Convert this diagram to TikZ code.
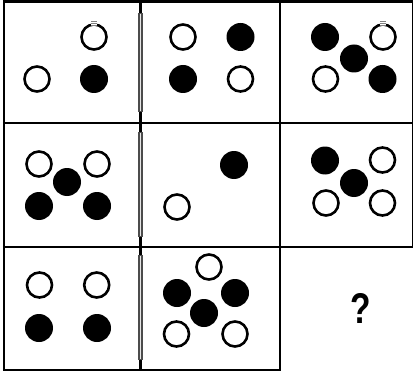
\documentclass[tikz,border=0pt]{standalone}
\usepackage{fontspec}
\setmainfont{Liberation Sans}
\begin{document}
\begin{tikzpicture}[x=1pt,y=-1pt,
  opn/.style={circle,draw=black,line width=2.6pt,fill=white,minimum size=25pt,inner sep=0pt},
  fil/.style={circle,fill=black,minimum size=28pt,inner sep=0pt},
  gridline/.style={draw=black,line width=2.2pt},
  dbl/.style={draw=black!70,line width=5.5pt},
  dblin/.style={draw=black!10,line width=1.6pt},
  tick/.style={draw=black!50,line width=0.8pt}]
\useasboundingbox (0,0) rectangle (414,374);
\fill[white] (0,0) rectangle (414,374);
% grid
\draw[gridline] (2.9,1.5) -- (413,1.5);
\draw[gridline] (4,0.4) -- (4,371);
\draw[gridline] (2.9,370) -- (281.1,370);
\draw[draw=black,line width=1.6pt] (412.6,0.4) -- (412.6,248);
\draw[gridline] (2.9,123) -- (413.4,123);
\draw[gridline] (2.9,247) -- (413.4,247);
\draw[gridline] (280,0.4) -- (280,371);
\draw[draw=black,line width=3pt] (140.3,0.4) -- (140.3,371);
\foreach \a/\b in {13/112,132/237,255/360}{
  \draw[dbl] (140.3,\a) -- (140.3,\b);
  \draw[dblin] (140.3,\a+0.8) -- (140.3,\b-0.8);
}
% cell 1
\node[opn] (a1) at (94,37) {};
\node[opn] (a2) at (37,79) {};
\node[fil] (a3) at (94,79) {};
% cell 2
\node[opn] (b1) at (183,37) {};
\node[fil] (b2) at (183,79) {};
\node[fil] (b3) at (240.5,37) {};
\node[opn] (b4) at (240.5,79) {};
% cell 3
\node[fil] (c1) at (325,37) {};
\node[fil] (c2) at (354,58.5) {};
\node[opn] (c3) at (383,37) {};
\node[opn] (c4) at (325.5,79) {};
\node[fil] (c5) at (382.5,79) {};
% marks on top of two open circles
\foreach \mx in {94,383}{
  \fill[white] (\mx-3,20) rectangle (\mx+3,26);
  \draw[tick] (\mx-3,21) -- (\mx+3,21);
  \draw[tick] (\mx-3,23) -- (\mx+3,23);
  \draw[tick] (\mx-3,25) -- (\mx+3,25);
}
% cell 4
\node[opn] (d1) at (39,164) {};
\node[opn] (d2) at (97,164) {};
\node[fil] (d3) at (67,182) {};
\node[fil] (d4) at (39,206) {};
\node[fil] (d5) at (97,206) {};
% cell 5
\node[fil] (e1) at (234,165) {};
\node[opn] (e2) at (177,207) {};
% cell 6
\node[fil] (f1) at (325,160.5) {};
\node[opn] (f2) at (382.5,160) {};
\node[fil] (f3) at (354,183) {};
\node[opn] (f4) at (326,203) {};
\node[opn] (f5) at (382.5,203) {};
% cell 7
\node[opn] (g1) at (39.5,285) {};
\node[opn] (g2) at (96.7,285) {};
\node[fil] (g3) at (39,328) {};
\node[fil] (g4) at (97,328) {};
% cell 8
\node[opn] (h1) at (209,267) {};
\node[fil] (h2) at (177,293) {};
\node[fil] (h3) at (235,293) {};
\node[fil] (h4) at (204,313) {};
\node[opn] (h5) at (176.5,334) {};
\node[opn] (h6) at (235,334) {};
% cell 9
\node[font=\fontsize{43}{43}\selectfont\bfseries,xscale=0.78,inner sep=0pt] (q) at (361,308.5) {?};
\end{tikzpicture}
\end{document}
